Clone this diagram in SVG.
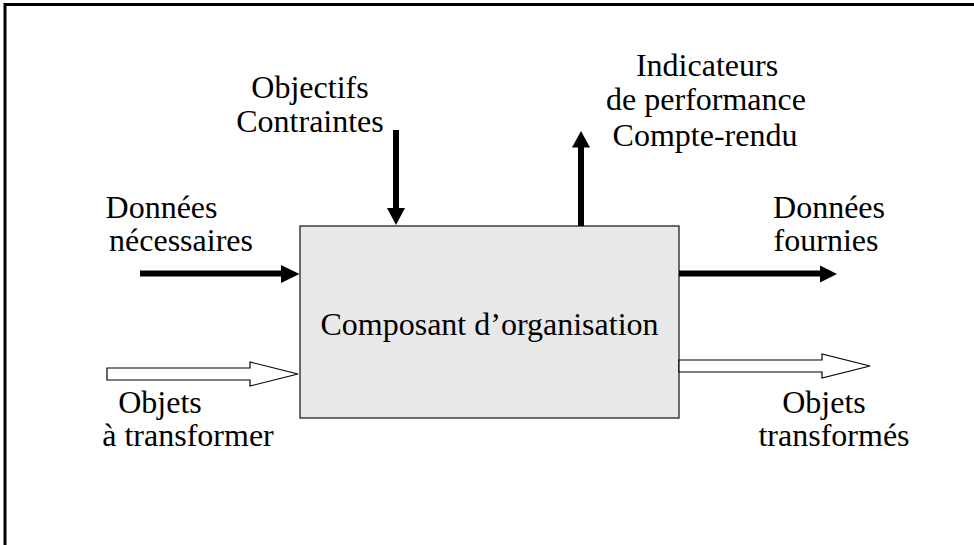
<svg xmlns="http://www.w3.org/2000/svg" width="974" height="545" viewBox="0 0 974 545">
<style>
text{font-family:"Liberation Serif","Times New Roman",serif;font-size:32px;fill:#000;text-anchor:middle}
.bar{stroke:#000;stroke-width:6;fill:none}
.head{fill:#000;stroke:none}
.hollow{fill:#fff;stroke:#000;stroke-width:1.2}
</style>
<rect width="974" height="545" fill="#fff"/>
<path d="M5,545 V4.5 H974" fill="none" stroke="#000" stroke-width="3"/>
<g id="composant">
<rect x="300" y="226" width="379" height="192" fill="#e8e8e8" stroke="#222" stroke-width="1.3"/>
<text x="489.5" y="335">Composant d’organisation</text>
</g>
<g id="objectifs">
<text x="310" y="98">Objectifs</text>
<text x="310" y="132">Contraintes</text>
</g>
<g id="indicateurs">
<text x="707" y="76">Indicateurs</text>
<text x="706" y="110">de performance</text>
<text x="705" y="146">Compte-rendu</text>
</g>
<g id="donnees-necessaires">
<text x="161.5" y="218">Données</text>
<text x="181" y="251">nécessaires</text>
</g>
<g id="donnees-fournies">
<text x="829" y="218">Données</text>
<text x="826" y="251">fournies</text>
</g>
<g id="objets-a-transformer">
<text x="160" y="413">Objets</text>
<text x="188" y="446">à transformer</text>
</g>
<g id="objets-transformes">
<text x="824" y="413">Objets</text>
<text x="834" y="446">transformés</text>
</g>
<g id="connectors">
<line class="bar" x1="140" y1="273.5" x2="283" y2="273.5"/>
<polygon class="head" points="281,265 299.5,274 281,283"/>
<line class="bar" x1="679" y1="273.5" x2="822" y2="273.5"/>
<polygon class="head" points="820,265.5 837,274 820,282.5"/>
<line class="bar" x1="396" y1="130" x2="396" y2="210"/>
<polygon class="head" points="387,208 405,208 396,225"/>
<line class="bar" x1="581" y1="226" x2="581" y2="146"/>
<polygon class="head" points="572,147.5 590,147.5 581,131"/>
<polygon class="hollow" points="107,368 250,368 250,362 298,374 250,386 250,380 107,380"/>
<polygon class="hollow" points="679,360 822,360 822,354 870,366 822,378 822,372 679,372"/>
</g>
</svg>
